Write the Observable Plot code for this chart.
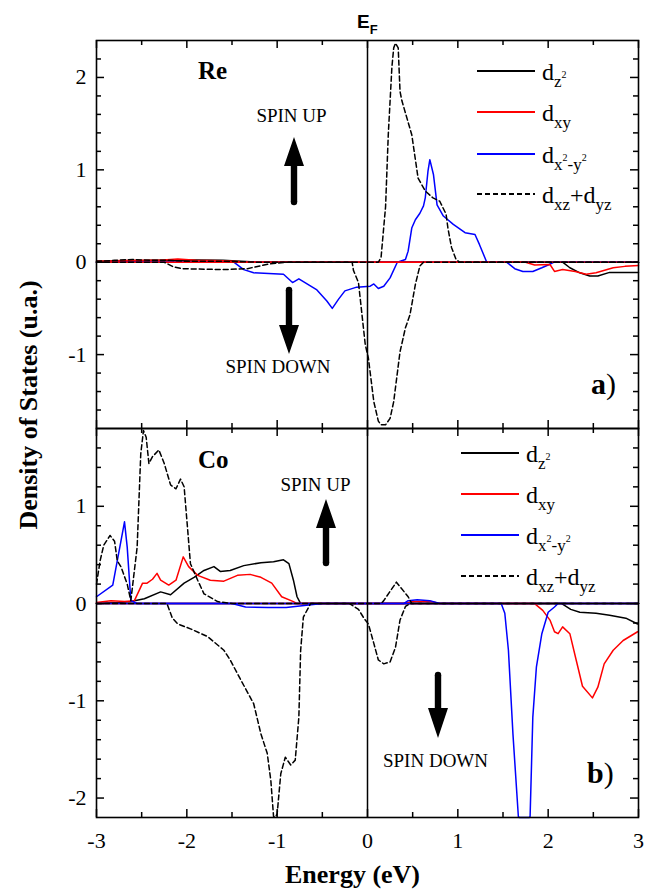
<!DOCTYPE html>
<html><head><meta charset="utf-8">
<script src="https://cdn.jsdelivr.net/npm/d3@7"></script>
<script src="https://cdn.jsdelivr.net/npm/@observablehq/plot@0.6"></script>
<style>
body{margin:0;background:#fff;}
#wrap{position:relative;width:653px;height:889px;overflow:hidden;font-family:"Liberation Serif",serif;background:#fff;}
#wrap svg{position:absolute;left:0;}
</style></head><body><div id="wrap"></div>
<script>
// ---- tick values ----
const energyTicks = [-3, -2, -1, 0, 1, 2, 3];
const energyMinor = [-2.5, -1.5, -0.5, 0.5, 1.5, 2.5];
const reTicks = [-1, 0, 1, 2];
const reMinor = [-1.6, -1.4, -1.2, -0.8, -0.6, -0.4, -0.2, 0.2, 0.4, 0.6, 0.8, 1.2, 1.4, 1.6, 1.8, 2.2];
const coTicks = [-2, -1, 0, 1];
const coMinor = [-1.8, -1.6, -1.4, -1.2, -0.8, -0.6, -0.4, -0.2, 0.2, 0.4, 0.6, 0.8, 1.2, 1.4, 1.6];
const energyDomain = [-3, 3];
const reDomain = [-1.8, 2.4];
const coDomain = [-2.2, 1.8];

// ---- Re panel (a) : [energy, DOS] ----
const reDz2Up = [[-3,0.01],[-2.6,0.01],[-2.4,0.02],[-2.2,0.02],[-1.9,0.025],[-1.6,0.02],[-1.4,0.01],[-1.2,0],[3,0]];
const reDz2Down = [[-3,0],[2.16,0],[2.24,-0.06],[2.35,-0.115],[2.46,-0.15],[2.55,-0.15],[2.68,-0.11],[2.8,-0.11],[3,-0.11]];
const reDxyUp = [[-3,0.01],[-2.6,0.02],[-2.3,0.02],[-2.1,0.035],[-1.9,0.02],[-1.6,0.015],[-1.3,0],[3,0]];
const reDxyDown = [[-3,0],[1.75,0],[1.85,-0.03],[2.02,-0.025],[2.07,-0.1],[2.16,-0.08],[2.3,-0.1],[2.42,-0.13],[2.53,-0.115],[2.72,-0.06],[2.85,-0.045],[3,-0.035]];
const reDx2y2Up = [[-3,0],[0.33,0],[0.42,0.03],[0.45,0.12],[0.49,0.37],[0.53,0.46],[0.58,0.53],[0.62,0.61],[0.64,0.70],[0.67,0.99],[0.69,1.11],[0.73,0.95],[0.77,0.62],[0.84,0.50],[0.95,0.41],[1.08,0.32],[1.19,0.30],[1.24,0.19],[1.32,0],[3,0]];
const reDx2y2Down = [[-3,0],[-1.48,0],[-1.37,-0.08],[-1.26,-0.115],[-0.93,-0.13],[-0.83,-0.22],[-0.76,-0.18],[-0.56,-0.30],[-0.45,-0.42],[-0.39,-0.50],[-0.32,-0.40],[-0.25,-0.31],[-0.12,-0.27],[0.03,-0.26],[0.07,-0.235],[0.12,-0.285],[0.18,-0.26],[0.25,-0.17],[0.33,0],[1.54,0],[1.63,-0.07],[1.72,-0.10],[1.83,-0.10],[1.93,-0.06],[2.0,-0.03],[2.06,0],[3,0]];
const reDxzUp = [[-3,0.01],[-2.8,0.02],[-2.6,0.03],[-2.4,0.02],[-2.2,0.02],[-2.0,0.01],[-1.6,0.01],[-1.2,0],[0.12,0],[0.15,0.05],[0.2,0.6],[0.23,1.38],[0.27,2.11],[0.29,2.32],[0.31,2.37],[0.34,2.32],[0.36,1.85],[0.38,1.75],[0.49,1.38],[0.56,0.91],[0.64,0.77],[0.72,0.70],[0.80,0.66],[0.87,0.52],[0.89,0.37],[0.93,0.16],[0.98,0.03],[1.02,0],[3,0]];
const reDxzDown = [[-3,0],[-2.25,0],[-2.15,-0.05],[-2.05,-0.07],[-1.6,-0.08],[-1.33,-0.07],[-1.1,-0.02],[-0.89,0],[-0.17,0],[-0.155,-0.09],[-0.1,-0.22],[-0.025,-0.89],[0.01,-1.04],[0.07,-1.51],[0.12,-1.72],[0.15,-1.76],[0.2,-1.76],[0.25,-1.69],[0.29,-1.51],[0.36,-0.97],[0.42,-0.71],[0.47,-0.57],[0.53,-0.24],[0.58,-0.04],[0.62,0],[3,0]];

// ---- Co panel (b) ---- (the two deepest dips leave the frame; shown up to its edge)
const coDz2Up = [[-3,0],[-2.75,0.01],[-2.62,0.02],[-2.47,0.05],[-2.29,0.12],[-2.18,0.09],[-2.03,0.21],[-1.92,0.27],[-1.81,0.34],[-1.70,0.38],[-1.63,0.33],[-1.52,0.34],[-1.37,0.39],[-1.18,0.42],[-1.04,0.43],[-0.93,0.45],[-0.87,0.41],[-0.82,0.24],[-0.78,0.07],[-0.74,0],[3,0]];
const coDz2Down = [[-3,0],[2.15,0],[2.25,-0.06],[2.35,-0.09],[2.53,-0.10],[2.68,-0.12],[2.86,-0.15],[2.99,-0.21]];
const coDxyUp = [[-3,0.01],[-2.84,0.03],[-2.69,0.02],[-2.58,0.03],[-2.49,0.21],[-2.44,0.21],[-2.38,0.25],[-2.33,0.31],[-2.29,0.24],[-2.2,0.19],[-2.12,0.24],[-2.04,0.48],[-1.98,0.38],[-1.88,0.29],[-1.74,0.24],[-1.59,0.23],[-1.44,0.29],[-1.3,0.30],[-1.18,0.27],[-1.06,0.21],[-0.95,0.07],[-0.82,0.02],[-0.78,0],[0.4,0],[0.5,0.02],[0.7,0.02],[0.8,0],[3,0]];
const coDxyDown = [[-3,0],[1.85,0],[1.94,-0.07],[2.02,-0.17],[2.07,-0.29],[2.11,-0.31],[2.16,-0.24],[2.24,-0.31],[2.31,-0.58],[2.38,-0.85],[2.49,-0.97],[2.55,-0.86],[2.62,-0.62],[2.72,-0.48],[2.83,-0.38],[2.99,-0.29]];
const coDx2y2Up = [[-3,0.07],[-2.82,0.19],[-2.69,0.84],[-2.66,0.58],[-2.62,0.03],[-2.55,0],[0.4,0],[0.45,0.03],[0.55,0.04],[0.69,0.03],[0.8,0],[3,0]];
const coDx2y2Down = [[-3,0],[-1.5,0],[-1.35,-0.035],[-1.1,-0.04],[-0.9,-0.04],[-0.7,-0.02],[-0.5,0],[1.48,0],[1.52,-0.1],[1.56,-0.48],[1.61,-1.34],[1.67,-2.19],[1.68,-2.2],[1.79,-2.2],[1.80,-2.19],[1.83,-1.17],[1.87,-0.65],[1.93,-0.31],[2.0,-0.09],[2.07,-0.035],[2.11,0],[3,0]];
const coDxzUp = [[-3,0.2],[-2.96,0.44],[-2.92,0.6],[-2.85,0.70],[-2.80,0.64],[-2.77,0.44],[-2.73,0.38],[-2.66,0.2],[-2.62,0.03],[-2.55,0.58],[-2.51,1.54],[-2.48,1.78],[-2.45,1.71],[-2.42,1.44],[-2.38,1.51],[-2.31,1.58],[-2.25,1.44],[-2.18,1.22],[-2.12,1.18],[-2.07,1.28],[-2.03,1.20],[-1.99,0.75],[-1.96,0.41],[-1.88,0.24],[-1.81,0.10],[-1.66,0.02],[-1.5,0],[0.15,0],[0.18,0.03],[0.32,0.22],[0.45,0.07],[0.49,0],[3,0]];
const coDxzDown = [[-3,0],[-2.22,0],[-2.16,-0.15],[-2.10,-0.21],[-1.96,-0.26],[-1.77,-0.34],[-1.59,-0.48],[-1.52,-0.58],[-1.40,-0.79],[-1.26,-1.03],[-1.18,-1.34],[-1.11,-1.54],[-1.07,-1.82],[-1.04,-2.19],[-1.02,-2.2],[-1.0,-2.16],[-0.96,-1.75],[-0.91,-1.58],[-0.85,-1.66],[-0.80,-1.61],[-0.76,-1.17],[-0.74,-0.48],[-0.71,-0.14],[-0.63,0],[-0.2,0],[-0.1,-0.06],[-0.04,-0.15],[0.01,-0.21],[0.07,-0.41],[0.12,-0.58],[0.18,-0.62],[0.25,-0.60],[0.31,-0.45],[0.36,-0.17],[0.42,-0.03],[0.47,0],[3,0]];

// ---- styling ----
const styles = {
  dz2:   {stroke: "#000000", dash: undefined},
  dxy:   {stroke: "#ff0000", dash: undefined},
  dx2y2: {stroke: "#0000ff", dash: undefined},
  dxzyz: {stroke: "#000000", dash: "5,3"}
};
const W = 653, ML = 96, MR = 15;
const wrap = document.getElementById("wrap");

// ---- annotations layer (underneath the plots) ----
const ov = d3.select(wrap).append("svg").attr("width", W).attr("height", 889)
  .style("top", "0px").style("pointer-events", "none")
  .style("font-family", "'Liberation Serif', serif").attr("fill", "#000");

function makePanel({series, domain, major, minor, height, mt, mb, xAxis, top}) {
  const iw = W - ML - MR, ih = height - mt - mb;
  const marks = [];
  marks.push(Plot.axisY({anchor: "left", ticks: major, tickSize: 0, tickPadding: 10, fontSize: 22, fill: "#000", label: null, tickFormat: d => String(d)}));
  if (xAxis) marks.push(Plot.axisX({anchor: "bottom", ticks: energyTicks, tickSize: 0, tickPadding: 15, fontSize: 22, fill: "#000", label: null, tickFormat: d => String(d)}));
  for (const [key, spins] of series) {
    const s = styles[key];
    for (const pts of spins) {
      marks.push(Plot.line(pts, {x: d => d[0], y: d => d[1], stroke: s.stroke, strokeWidth: 1.5, strokeDasharray: s.dash}));
    }
  }
  marks.push(Plot.ruleX([0], {stroke: "#000", strokeWidth: 1.5}));
  marks.push(Plot.frame({stroke: "#000", strokeWidth: 1.6}));
  // inward ticks on all four sides
  const tk = {stroke: "#000", strokeWidth: 1.5};
  marks.push(Plot.tickY(major, {...tk, y: d => d, insetRight: iw - 8}));
  marks.push(Plot.tickY(major, {...tk, y: d => d, insetLeft: iw - 8}));
  marks.push(Plot.tickY(minor, {...tk, y: d => d, insetRight: iw - 5}));
  marks.push(Plot.tickY(minor, {...tk, y: d => d, insetLeft: iw - 5}));
  marks.push(Plot.tickX(energyTicks, {...tk, x: d => d, insetBottom: ih - 8}));
  marks.push(Plot.tickX(energyTicks, {...tk, x: d => d, insetTop: ih - 8}));
  marks.push(Plot.tickX(energyMinor, {...tk, x: d => d, insetBottom: ih - 5}));
  marks.push(Plot.tickX(energyMinor, {...tk, x: d => d, insetTop: ih - 5}));
  const svg = Plot.plot({
    width: W, height, marginLeft: ML, marginRight: MR, marginTop: mt, marginBottom: mb,
    style: {fontFamily: "Liberation Serif", fontSize: "22px", color: "#000", background: "transparent", overflow: "visible"},
    x: {domain: energyDomain, axis: null},
    y: {domain, axis: null},
    marks
  });
  svg.style.top = top + "px";
  wrap.appendChild(svg);
}

makePanel({
  series: [["dz2", [reDz2Up, reDz2Down]], ["dx2y2", [reDx2y2Up, reDx2y2Down]], ["dxy", [reDxyUp, reDxyDown]], ["dxzyz", [reDxzUp, reDxzDown]]],
  domain: reDomain, major: reTicks, minor: reMinor, height: 429, mt: 40, mb: 1, xAxis: false, top: 0
});
makePanel({
  series: [["dz2", [coDz2Up, coDz2Down]], ["dxy", [coDxyUp, coDxyDown]], ["dx2y2", [coDx2y2Up, coDx2y2Down]], ["dxzyz", [coDxzUp, coDxzDown]]],
  domain: coDomain, major: coTicks, minor: coMinor, height: 462, mt: 1, mb: 72, xAxis: true, top: 427
});

function txt(x, y, s, size, weight, anchor) {
  return ov.append("text").attr("x", x).attr("y", y).attr("font-size", size)
    .attr("font-weight", weight || "normal").attr("text-anchor", anchor || "start").text(s);
}
// axis titles
ov.append("text").attr("transform", "translate(37,405) rotate(-90)").attr("text-anchor", "middle")
  .attr("font-size", 26).attr("font-weight", "bold").text("Density of States (u.a.)");
txt(285, 883, "Energy (eV)", 26, "bold");
// E_F
const ef = ov.append("text").attr("x", 357).attr("y", 28).attr("font-family", "'Liberation Sans', Arial, sans-serif").attr("font-weight", "bold");
ef.append("tspan").attr("font-size", 19).text("E");
ef.append("tspan").attr("font-size", 13).attr("dy", 6).text("F");
// panel names
txt(198, 79, "Re", 25, "bold");
txt(198, 468, "Co", 25, "bold");
// spin labels
txt(291.5, 122, "SPIN UP", 19, "normal", "middle");
txt(278, 373, "SPIN DOWN", 19, "normal", "middle");
txt(315.5, 491, "SPIN UP", 19, "normal", "middle");
txt(435.5, 767, "SPIN DOWN", 19, "normal", "middle");
// panel letters
function letter(x, y, l) {
  const t = ov.append("text").attr("x", x).attr("y", y).attr("font-size", 30);
  t.append("tspan").attr("font-weight", "bold").text(l);
  t.append("tspan").text(")");
}
letter(591, 394, "a");
letter(587, 783, "b");
// arrows
function arrow(x, tail, base, tip) {
  const hw = 10, sw = 3.2;
  const p = d3.path();
  p.moveTo(x - sw, tail); p.lineTo(x - sw, base); p.lineTo(x - hw, base);
  p.lineTo(x, tip); p.lineTo(x + hw, base); p.lineTo(x + sw, base); p.lineTo(x + sw, tail); p.closePath();
  ov.append("path").attr("d", p.toString()).attr("fill", "#000");
  ov.append("circle").attr("cx", x).attr("cy", tail).attr("r", sw).attr("fill", "#000");
}
arrow(294, 202, 166, 137);
arrow(289, 290, 325, 354);
arrow(326, 563, 528, 499);
arrow(438, 675, 708, 738);

// legends
const legendItems = [
  {key: "dz2", parts: [["d", 0, 24], ["z", 7, 17], ["2", -9, 10]]},
  {key: "dxy", parts: [["d", 0, 24], ["xy", 7, 17]]},
  {key: "dx2y2", parts: [["d", 0, 24], ["x", 7, 17], ["2", -9, 10], ["-y", 9, 17], ["2", -9, 10]]},
  {key: "dxzyz", parts: [["d", 0, 24], ["xz", 7, 17], ["+d", -7, 24], ["yz", 7, 17]]}
];
function legend(x0, x1, tx, rows) {
  legendItems.forEach((it, i) => {
    const y = rows[i], s = styles[it.key];
    ov.append("line").attr("x1", x0).attr("x2", x1).attr("y1", y).attr("y2", y)
      .attr("stroke", s.stroke).attr("stroke-width", 1.8).attr("stroke-dasharray", s.dash || null);
    const t = ov.append("text").attr("x", tx).attr("y", y + 9);
    it.parts.forEach(([str, dy, fs]) => t.append("tspan").attr("dy", dy).attr("font-size", fs).text(str));
  });
}
legend(477, 535, 542, [71, 112, 154, 194]);
legend(461, 519, 526, [453, 494, 535, 576]);
</script></body></html>
